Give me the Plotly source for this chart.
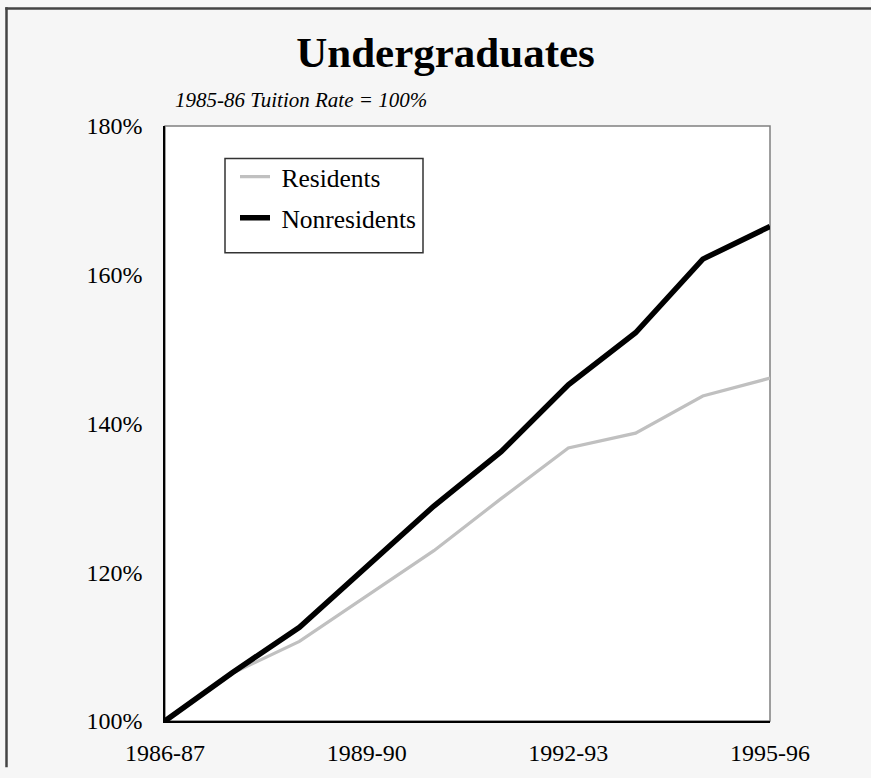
import plotly.graph_objects as go

years = ["1986-87", "1987-88", "1988-89", "1989-90", "1990-91",
         "1991-92", "1992-93", "1993-94", "1994-95", "1995-96"]
residents = [100, 106.4, 110.7, 116.8, 122.9, 129.9, 136.7, 138.7, 143.7, 146.1]
nonresidents = [100, 106.5, 112.6, 120.7, 128.9, 136.2, 145.2, 152.2, 162.1, 166.5]
tick_years = ["1986-87", "1989-90", "1992-93", "1995-96"]
y_ticks = [100, 120, 140, 160, 180]

W, H = 871, 778
L, R, T, B = 165, 101, 126, 47
PW, PH = W - L - R, H - T - B

def px(x):
    return (x - L) / PW

def py(y):
    return (H - B - y) / PH

FONT = "Liberation Serif, Times New Roman, serif"

fig = go.Figure()
fig.add_trace(go.Scatter(x=years, y=residents, mode="lines", name=" Residents",
                         line=dict(color="#c0c0c0", width=3.2), legendgroup="a"))
fig.add_trace(go.Scatter(x=years, y=nonresidents, mode="lines", name=" Nonresidents",
                         line=dict(color="#000000", width=5.5), legendgroup="b"))

fig.update_layout(
    width=W, height=H,
    margin=dict(l=L, r=R, t=T, b=B, pad=0),
    paper_bgcolor="#f6f6f6",
    plot_bgcolor="#ffffff",
    font=dict(family=FONT, size=24, color="#000000"),
    title=dict(text="<b>Undergraduates</b>", x=445.5 / W, xanchor="center",
               y=1 - 52 / H, yanchor="middle",
               font=dict(family=FONT, size=43, color="#000000")),
    showlegend=True,
    legend=dict(x=px(235), y=py(154), xanchor="left", yanchor="top",
                bgcolor="rgba(0,0,0,0)", borderwidth=0,
                font=dict(family=FONT, size=25.5, color="#000000"),
                tracegroupgap=5, traceorder="grouped"),
    xaxis=dict(type="category", categoryorder="array", categoryarray=years,
               range=[0, 9], tickvals=tick_years, ticktext=tick_years,
               showgrid=False, zeroline=False, showline=True, linecolor="#000000",
               linewidth=1.5, ticks="", ticklen=0, tickfont=dict(size=24),
               ticklabelstandoff=9, fixedrange=True),
    yaxis=dict(range=[100, 180], tickvals=y_ticks,
               ticktext=[f"{v}%" for v in y_ticks],
               showgrid=False, zeroline=False, showline=True, linecolor="#000000",
               linewidth=1.5, ticks="", tickfont=dict(size=24),
               ticklabelstandoff=16, fixedrange=True),
    shapes=[
        dict(type="rect", xref="paper", yref="paper", x0=0, y0=0, x1=1, y1=1,
             line=dict(color="#808080", width=1.5), layer="below"),
        dict(type="rect", xref="paper", yref="paper", x0=px(225), x1=px(423),
             y0=py(159), y1=py(255), fillcolor="#ffffff",
             line=dict(color="#333333", width=1.5), layer="below"),
        dict(type="line", xref="paper", yref="paper", x0=px(5.25), x1=px(W),
             y0=py(6.5), y1=py(6.5), line=dict(color="#444444", width=2.5)),
        dict(type="line", xref="paper", yref="paper", x0=px(6.5), x1=px(6.5),
             y0=py(5.25), y1=py(H), line=dict(color="#444444", width=2.5)),
    ],
    annotations=[
        dict(text="<i>1985-86 Tuition Rate = 100%</i>", xref="paper", yref="paper",
             x=px(173), y=py(100), xanchor="left", yanchor="middle", showarrow=False,
             font=dict(family=FONT, size=21, color="#000000")),
    ],
)

fig.write_html("out.html",
               config={"displayModeBar": False},
               post_script="document.body.style.margin='0';"
                           "document.body.style.overflow='hidden';"
                           "document.documentElement.style.overflow='hidden';")
